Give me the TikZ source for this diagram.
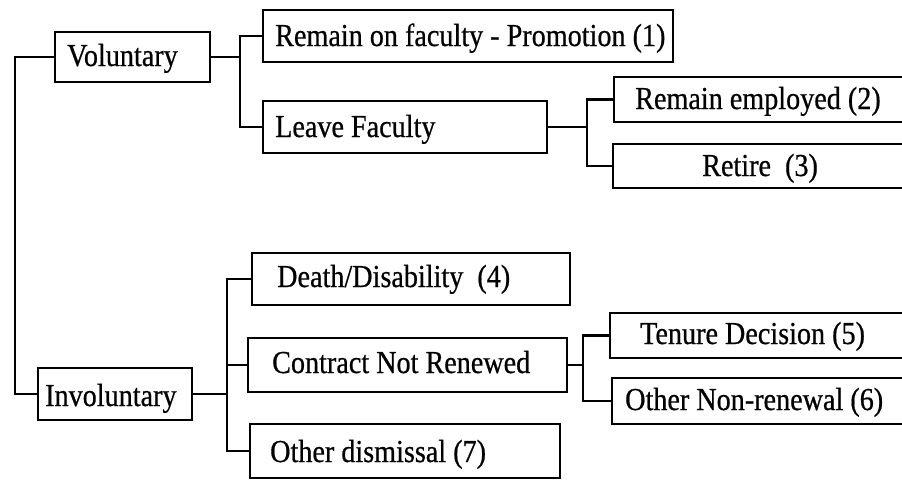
\documentclass[tikz,border=0pt]{standalone}
\usepackage{fontspec}
\setmainfont{Liberation Serif}[FakeStretch=0.88,FakeBold=0.6]
\tikzset{
  box/.style={draw, line width=2.2pt, rectangle, inner sep=0pt},
  lbl/.style={anchor=base west, inner sep=0pt, font=\fontsize{32}{36}\selectfont},
  link/.style={line width=2.2pt}
}
\newcommand\mybox[5]{\node[box, minimum width={(#4-#2)*1pt}, minimum height={(#5-#3)*1pt}] (#1) at ({(#2+#4)/2},{(#3+#5)/2}) {};}
\begin{document}
\begin{tikzpicture}[x=1pt,y=-1pt]
\useasboundingbox (0,0) rectangle (902,480);
\clip (0,0) rectangle (902,480);
% boxes
\mybox{vol}{55}{32}{210}{82}
\mybox{rem}{263}{10}{673}{62}
\mybox{lf}{263}{101}{547}{153}
\mybox{re}{614}{77}{930}{122}
\mybox{rt}{613}{144}{930}{188}
\mybox{inv}{38}{368}{192}{420}
\mybox{dd}{252}{253}{570}{305}
\mybox{cn}{248}{338}{567}{392}
\mybox{od}{250}{424}{560}{478}
\mybox{td}{610}{313}{930}{358}
\mybox{on}{612}{378}{930}{424}
% labels
\node[lbl] (tvol) at (67,66) {Voluntary};
\node[lbl] (trem) at (275,46) {Remain on faculty - Promotion (1)};
\node[lbl] (tlf) at (275,137) {Leave Faculty};
\node[lbl] (tre) at (635,109) {Remain employed (2)};
\node[lbl] (trt) at (702,176) {Retire\ \ (3)};
\node[lbl] (tinv) at (45,406) {Involuntary};
\node[lbl] (tdd) at (277,287) {Death/Disability\ \ (4)};
\node[lbl] (tcn) at (272,373) {Contract Not Renewed};
\node[lbl] (tod) at (270,462) {Other dismissal (7)};
\node[lbl] (ttd) at (640,344) {Tenure Decision (5)};
\node[lbl] (ton) at (625,410) {Other Non-renewal (6)};
% connectors
\coordinate (trunk) at (15,0);
\draw[link] (vol.west) -- (trunk |- vol.west) -- (trunk |- inv.west) -- (inv.west);
\coordinate (b1) at (240,0);
\draw[link] (vol.east) -- (b1 |- vol.east);
\draw[link] (rem.west) -- (b1 |- rem.west) -- (b1 |- lf.west) -- (lf.west);
\coordinate (b2) at (587,0);
\draw[link] (lf.east) -- (b2 |- lf.east);
\draw[link] (re.west) -- (b2 |- re.west) -- (b2 |- rt.west) -- (rt.west);
\coordinate (b3) at (227,0);
\draw[link] (inv.east) -- (b3 |- inv.east);
\draw[link] (dd.west) -- (b3 |- dd.west) -- (b3 |- od.west) -- (od.west);
\draw[link] (cn.west) -- (b3 |- cn.west);
\coordinate (b4) at (583,0);
\draw[link] (cn.east) -- (b4 |- cn.east);
\draw[link] (td.west) -- (b4 |- td.west) -- (b4 |- on.west) -- (on.west);
\end{tikzpicture}
\end{document}
